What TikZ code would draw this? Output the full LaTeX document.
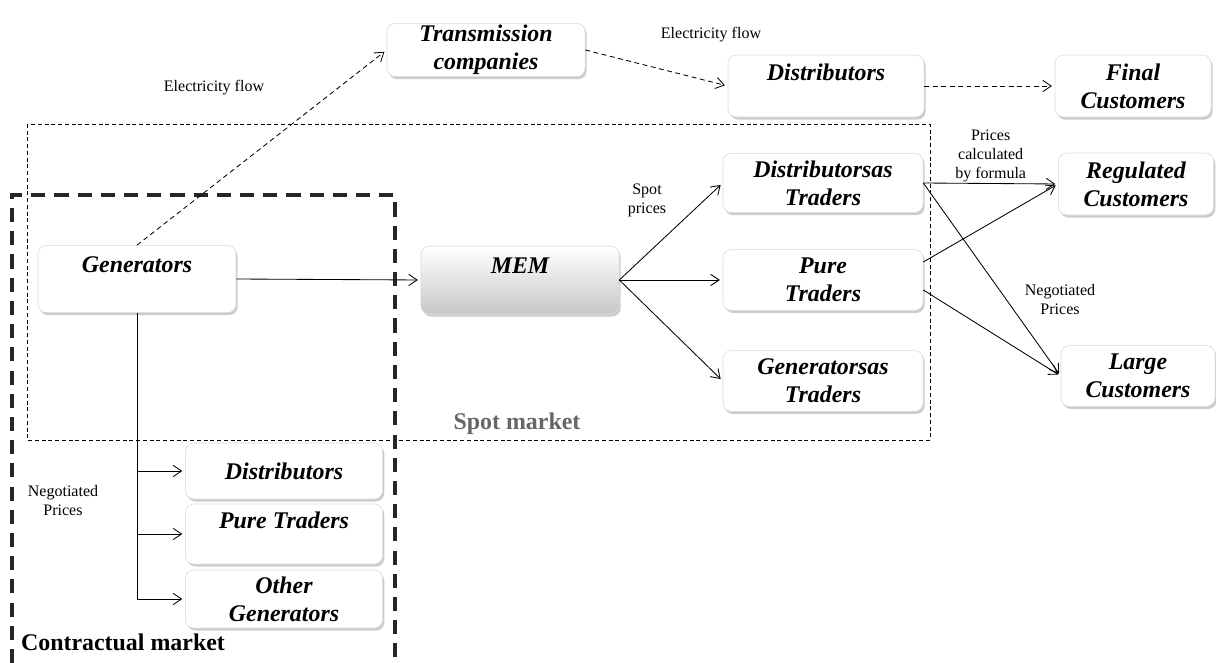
\documentclass[tikz,border=0pt]{standalone}
\usepackage{fontspec}
\setmainfont{Liberation Serif}
\usepackage{xcolor}
\usepackage{tikz}
\usetikzlibrary{positioning,arrows.meta,calc,shadows}

\begin{document}
\begin{tikzpicture}[
  x=0.025cm, y=-0.025cm,
  box/.style={rectangle, rounded corners=6pt, minimum width=4.95cm, minimum height=1.55cm,
              draw=black!15, fill=white, inner sep=1pt, align=center,
              font=\fontsize{17}{20}\selectfont\bfseries\itshape,
              drop shadow={shadow xshift=1.2pt, shadow yshift=-1.8pt, opacity=.4}},
  small/.style={font=\fontsize{11.4}{13.5}\selectfont, align=center},
  arrow/.style={-{Straight Barb[length=6pt, width=8pt]}, line width=0.6pt, shorten >=2pt},
  flow/.style={arrow, dash pattern=on 3.5pt off 2.5pt},
  spot/.style={dash pattern=on 2.8pt off 2pt, line width=0.6pt},
  contract/.style={dash pattern=on 10pt off 6.5pt, line width=2.4pt, black!85}
]
\useasboundingbox (0,0) rectangle (1216,663);

% Market areas
\draw[spot] (27,124) rectangle (930,440);
\draw[contract] (12,663) -- (12,195) -- (395,195) -- (395,663);

% Top row
\node[box, minimum height=1.33cm] (trans) at (486,50) {Transmission\\companies};
\node[box, minimum width=4.9cm] (dist) at (826,86) {Distributors\\~};
\node[box, minimum width=3.9cm] (final) at (1133,86) {Final\\Customers};

% Spot market
\node[box, minimum height=1.68cm] (gen) at (137,279) {Generators\\~};
\node[box, minimum height=1.7cm, top color=white, bottom color=black!22] (mem) at (520,280) {MEM\\~};
\node[box, minimum width=5cm, minimum height=1.48cm] (dtr) at (823,183) {Distributorsas\\Traders};
\node[box, minimum width=5cm, minimum height=1.52cm] (ptr) at (823,280) {Pure\\Traders};
\node[box, minimum width=5cm, minimum height=1.52cm] (gtr) at (823,381) {Generatorsas\\Traders};

% Customers
\node[box, minimum width=3.88cm] (reg) at (1136,184) {Regulated\\Customers};
\node[box, minimum width=3.85cm, minimum height=1.52cm] (large) at (1138,376) {Large\\Customers};

% Contractual market
\node[box, minimum width=4.93cm, minimum height=1.4cm] (cdist) at (284,471) {Distributors};
\node[box, minimum width=4.93cm, minimum height=1.5cm] (cptr) at (284,534) {Pure Traders\\~};
\node[box, minimum width=4.93cm, minimum height=1.45cm] (cgen) at (284,599) {Other\\Generators};

% Electricity flow
\draw[flow] (gen.north) -- (trans.west);
\draw[flow] (trans.east) -- (dist.west);
\draw[flow] (dist.east) -- (final.west);

% Spot prices
\draw[arrow] (gen.east) -- (mem.west);
\draw[arrow] (mem.east) -- (dtr.west);
\draw[arrow] (mem.east) -- (ptr.west);
\draw[arrow] (mem.east) -- (gtr.west);

% Customer prices
\draw[arrow] (dtr.east) -- node[small, above, inner sep=1pt] {Prices\\calculated\\by formula} (reg.west);
\draw[arrow] (dtr.east) -- (large.west);
\draw[arrow] ($(ptr.east)+(0,-18)$) -- (reg.west);
\draw[arrow] ($(ptr.east)+(0,10)$) -- (large.west);

% Negotiated contracts
\draw[arrow] (gen.south) |- (cdist.west);
\draw[arrow] (gen.south) |- (cptr.west);
\draw[arrow] (gen.south) |- (cgen.west);

% Labels
\node[small] (eflow1) at (214,88) {Electricity flow};
\node[small] (eflow2) at (711,35) {Electricity flow};
\node[small] (sprice) at (647,200) {Spot\\prices};
\node[small] (negr) at (1060,300) {Negotiated\\Prices};
\node[small] (negl) at (63,501) {Negotiated\\Prices};
\node[font=\fontsize{17}{20}\selectfont\bfseries, text=black!60] (spotlbl) at (517,424) {Spot market};
\node[font=\fontsize{17}{20}\selectfont\bfseries] (conlbl) at (123,642) {Contractual market};

\end{tikzpicture}
\end{document}
